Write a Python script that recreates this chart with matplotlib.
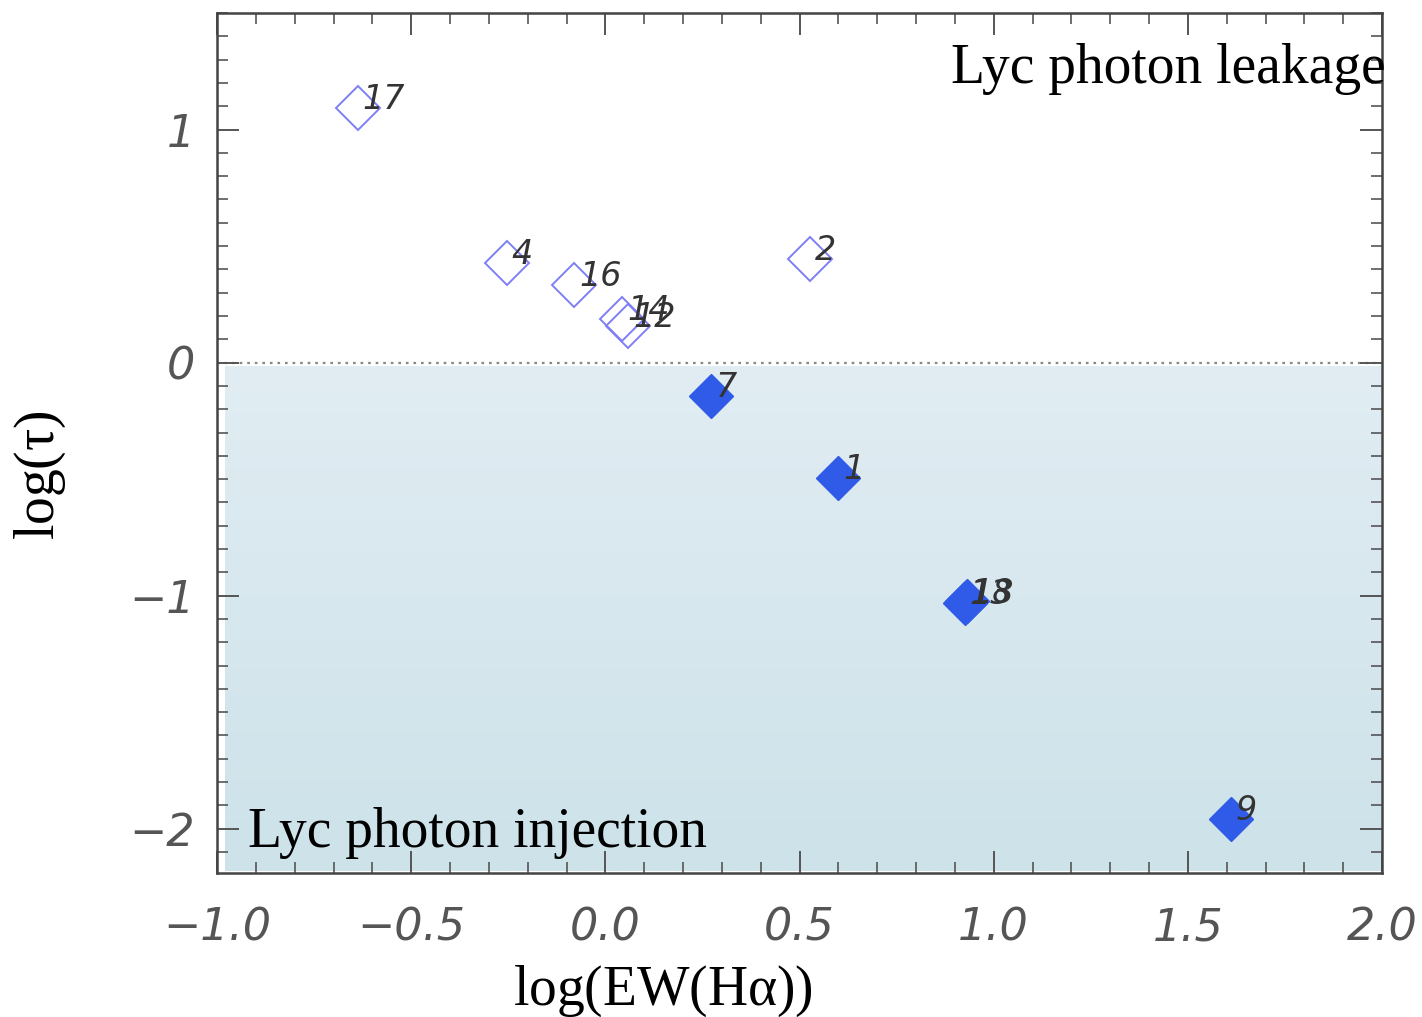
import matplotlib.pyplot as plt
import numpy as np
from matplotlib.ticker import MultipleLocator, FuncFormatter

plt.rcParams["mathtext.fontset"] = "stix"

# log EW(Halpha) vs log(tau) per source
leak_ids = ["17", "4", "16", "14", "12", "2"]
leak_x = [-0.637, -0.253, -0.080, 0.044, 0.059, 0.528]
leak_y = [1.094, 0.429, 0.335, 0.189, 0.159, 0.446]

inject_ids = ["7", "1", "13", "18", "9"]
inject_x = [0.273, 0.600, 0.925, 0.930, 1.611]
inject_y = [-0.142, -0.494, -1.030, -1.025, -1.957]

XLIM = (-1.0, 2.0)
YLIM = (-2.19, 1.5)


def minus_fmt(fmt):
    return FuncFormatter(lambda v, pos: (fmt % v).replace("-", "\u2212"))


fig = plt.figure(figsize=(14.22, 10.17), dpi=100)
ax = fig.add_axes([0.1526, 0.1416, 0.8193, 0.8456])

# shaded injection region below log(tau)=0, light vertical gradient
grad = np.linspace(0, 1, 256).reshape(-1, 1)
top_c = np.array([0xe1, 0xed, 0xf3]) / 255
bot_c = np.array([0xcd, 0xe2, 0xe9]) / 255
rgb = top_c[None, None, :] * (1 - grad[..., None]) + bot_c[None, None, :] * grad[..., None]
ax.imshow(rgb, extent=[-0.98, XLIM[1], -2.18, -0.015], aspect="auto",
          origin="upper", zorder=0, interpolation="bilinear")

ax.axhline(0, color="#888888", linestyle=(0, (1.2, 2.2)), linewidth=1.6, zorder=1)

ax.plot(leak_x, leak_y, linestyle="none", marker="D", markersize=22,
        markerfacecolor="none", markeredgecolor="#7f7ff5", markeredgewidth=1.4, zorder=3)
ax.plot(inject_x, inject_y, linestyle="none", marker="D", markersize=22,
        markerfacecolor="#2f5be8", markeredgecolor="#2f5be8", markeredgewidth=1.0, zorder=3)

for ids, xs, ys in [(leak_ids, leak_x, leak_y), (inject_ids, inject_x, inject_y)]:
    for s, x, y in zip(ids, xs, ys):
        ax.text(x + 0.012, y - 0.035, s, fontsize=24, style="italic", color="#333333",
                ha="left", va="bottom", zorder=4)

ax.set_xlim(*XLIM)
ax.set_ylim(*YLIM)

ax.xaxis.set_major_locator(MultipleLocator(0.5))
ax.xaxis.set_minor_locator(MultipleLocator(0.1))
ax.yaxis.set_major_locator(MultipleLocator(1))
ax.yaxis.set_minor_locator(MultipleLocator(0.1))
ax.xaxis.set_major_formatter(minus_fmt("%.1f"))
ax.yaxis.set_major_formatter(minus_fmt("%d"))

ax.tick_params(which="both", direction="in", top=True, right=True, colors="#555555")
ax.tick_params(which="major", length=16, width=1.4, labelsize=32)
ax.tick_params(axis="x", which="major", pad=24)
ax.tick_params(axis="y", which="major", pad=16)
ax.tick_params(which="minor", length=8, width=1.2)
for lab in ax.get_xticklabels() + ax.get_yticklabels():
    lab.set_fontstyle("italic")
    lab.set_color("#555555")
for sp in ax.spines.values():
    sp.set_color("#444444")
    sp.set_linewidth(1.8)

ax.set_xlabel(r"log(EW(H$\mathregular{\alpha}$))", fontsize=40, family="Liberation Serif",
              va="center")
ax.set_ylabel(r"log($\mathregular{\tau}$)", fontsize=40, family="Liberation Serif",
              va="center")
ax.xaxis.set_label_coords(0.383, -0.137)
ax.yaxis.set_label_coords(-0.152, 0.463)

ax.text(2.008, 1.26, "Lyc photon leakage", fontsize=40, family="Liberation Serif",
        ha="right", va="center", zorder=5)
ax.text(-0.92, -2.02, "Lyc photon injection", fontsize=40, family="Liberation Serif",
        ha="left", va="center", zorder=5)

fig.savefig("out.png", dpi=100)
